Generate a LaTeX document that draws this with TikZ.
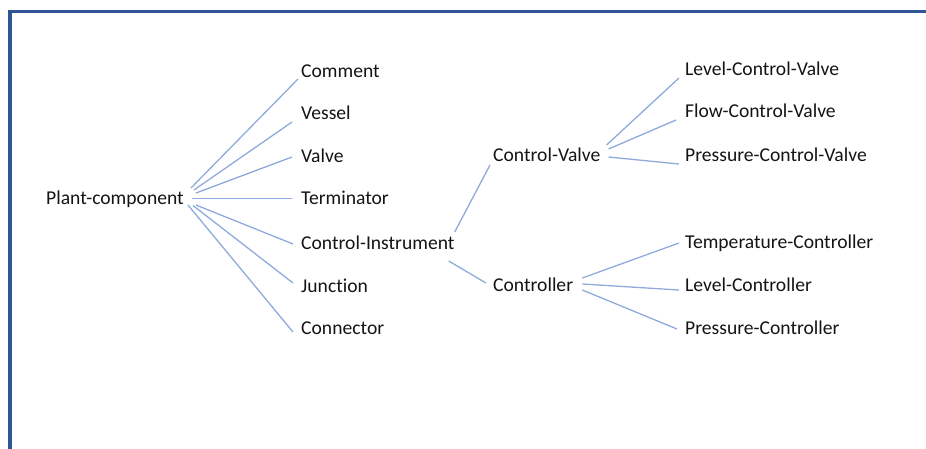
\documentclass[tikz,border=0pt]{standalone}
\usepackage{fontspec}
\setmainfont{Carlito}[Ligatures={NoCommon,NoDiscretionary,NoContextual}]
\usetikzlibrary{calc}
\definecolor{frameblue}{RGB}{47,85,151}
\definecolor{linkblue}{RGB}{143,170,220}
\definecolor{txt}{RGB}{20,20,20}
\begin{document}
\begin{tikzpicture}[x=1pt,y=-1pt,
  lbl/.style={anchor=west,inner sep=0pt,text height=12.6pt,text depth=0pt,
    font=\fontsize{19.6pt}{23pt}\selectfont,text=txt},
  link/.style={draw=linkblue,line width=1.3pt}]
\useasboundingbox (0,0) rectangle (926,448);
\draw[frameblue,line width=3.4pt] (10,11.5) rectangle (940,460);
% nodes
\node[lbl] (pc) at (46,198.5) {Plant-component};
\node[lbl] (cm) at (301,71) {Comment};
\node[lbl] (ve) at (301,113) {Vessel};
\node[lbl] (va) at (301,156) {Valve};
\node[lbl] (te) at (301,198.5) {Terminator};
\node[lbl] (ci) at (301,243) {Control-Instrument};
\node[lbl] (ju) at (301,286) {Junction};
\node[lbl] (co) at (301,328.5) {Connector};
\node[lbl] (cv) at (493,155) {Control-Valve};
\node[lbl] (ct) at (493,285) {Controller};
\node[lbl] (lcv) at (685,69.5) {Level-Control-Valve};
\node[lbl] (fcv) at (685,111.5) {Flow-Control-Valve};
\node[lbl] (pcv) at (685,155) {Pressure-Control-Valve};
\node[lbl] (tc) at (685,242.5) {Temperature-Controller};
\node[lbl] (lc) at (685,285) {Level-Controller};
\node[lbl] (prc) at (685,328.5) {Pressure-Controller};
% connectors
\path[link] ($(pc.east)+(7,-10.5)$) -- ($(cm.west)+(-3,8)$);
\path[link] ($(pc.east)+(10,-8.5)$) -- ($(ve.west)+(-9,9)$);
\path[link] ($(pc.east)+(12,-5.5)$) -- ($(va.west)+(-9,1)$);
\path[link] ($(pc.east)+(8,0)$) -- ($(te.west)+(-9,0)$);
\path[link] ($(pc.east)+(12,6.5)$) -- ($(ci.west)+(-8,1)$);
\path[link] ($(pc.east)+(9,7)$) -- ($(ju.west)+(-8,-3)$);
\path[link] ($(pc.east)+(4,6.5)$) -- ($(co.west)+(-8,3.5)$);
\path[link] ($(ci.east)+(0,-11)$) -- ($(cv.west)+(-3,10)$);
\path[link] ($(ci.east)+(-6,18)$) -- ($(ct.west)+(-7,-2)$);
\path[link] ($(cv.east)+(6,-10)$) -- ($(lcv.west)+(-6,8.5)$);
\path[link] ($(cv.east)+(8,-6)$) -- ($(fcv.west)+(-9,8.5)$);
\path[link] ($(cv.east)+(8,2)$) -- ($(pcv.west)+(-6,9)$);
\path[link] ($(ct.east)+(9,-7)$) -- ($(tc.west)+(-6,0.5)$);
\path[link] ($(ct.east)+(9,-1)$) -- ($(lc.west)+(-6,5)$);
\path[link] ($(ct.east)+(9,5)$) -- ($(prc.west)+(-8,0.5)$);
\end{tikzpicture}
\end{document}
